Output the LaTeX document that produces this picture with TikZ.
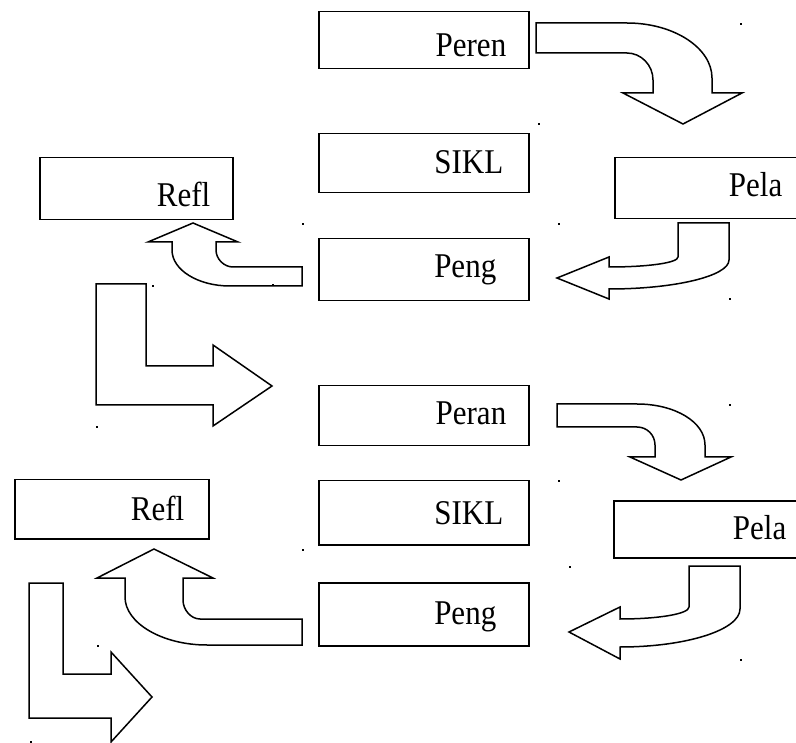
\documentclass[tikz,border=0pt]{standalone}
\usepackage{fontspec}
\setmainfont{Liberation Serif}
\newcommand{\boxtext}[1]{\scalebox{1}[1.12]{#1}}

\begin{document}
\begin{tikzpicture}[x=1pt,y=-1pt,line width=1.5pt,
  box/.style={draw,black,rectangle,anchor=north west,inner sep=0pt},
  lbl/.style={anchor=base east,inner sep=0pt,font=\fontsize{31}{36}\selectfont},
  blk/.style={draw,black,line join=miter}]
\useasboundingbox (0,0) rectangle (796,743);
% boxes, first cycle
\node [box,minimum width=210pt,minimum height=57pt] (peren) at (318,11) {};
\node [lbl] (perenT) at (507,57) {\boxtext{Peren}};
\node [box,minimum width=210pt,minimum height=59pt] (siklA) at (318,133) {};
\node [lbl] (siklAT) at (504,174) {\boxtext{SIKL}};
\node [box,minimum width=210pt,minimum height=62pt] (pengA) at (318,238) {};
\node [lbl] (pengAT) at (497,278) {\boxtext{Peng}};
\node [box,minimum width=190pt,minimum height=61pt] (pelaA) at (614,157) {};
\node [lbl] (pelaAT) at (783,197) {\boxtext{Pela}};
\node [box,minimum width=193pt,minimum height=62pt] (reflA) at (39,157) {};
\node [lbl] (reflAT) at (211,207) {\boxtext{Refl}};
% boxes, second cycle
\node [box,minimum width=210pt,minimum height=60pt] (peran) at (318,385) {};
\node [lbl] (peranT) at (507,425) {\boxtext{Peran}};
\node [box,minimum width=210pt,minimum height=64pt] (siklB) at (318,480) {};
\node [lbl] (siklBT) at (504,525) {\boxtext{SIKL}};
\node [box,minimum width=210pt,minimum height=63pt] (pengB) at (318,582) {};
\node [lbl] (pengBT) at (497,624) {\boxtext{Peng}};
\node [box,minimum width=192pt,minimum height=57pt] (pelaB) at (613,500) {};
\node [lbl] (pelaBT) at (787,539) {\boxtext{Pela}};
\node [box,minimum width=194pt,minimum height=59pt] (reflB) at (14,479) {};
\node [lbl] (reflBT) at (185,520) {\boxtext{Refl}};
% curved block arrows
\draw [blk] (536,23) -- (627,23) .. controls (674,23) and (712,48) .. (712,78) -- (712,93)
  -- (742,93) -- (683,124) -- (623,93) -- (653,93) -- (653,80)
  .. controls (653,65) and (641,53) .. (627,53) -- (536,53) -- cycle;
\draw [blk] (678,223) -- (729,223) -- (729,260) .. controls (729,276) and (675,289) .. (609,289)
  -- (609,299) -- (557,278) -- (609,257) -- (609,267)
  .. controls (647,267) and (678,263) .. (678,257) -- cycle;
\draw [blk] (302,267) -- (233,267) .. controls (224,267) and (216,259) .. (216,250) -- (216,242)
  -- (238,242) -- (193,223) -- (148,242) -- (172,242) -- (172,250)
  .. controls (172,270) and (198,286) .. (230,286) -- (302,286) -- cycle;
\draw [blk] (557,404) -- (637,404) .. controls (675,404) and (705,422) .. (705,445) -- (705,457)
  -- (731,457) -- (681,480) -- (630,457) -- (655,457) -- (655,445)
  .. controls (655,435) and (647,427) .. (637,427) -- (557,427) -- cycle;
\draw [blk] (689,566) -- (740,566) -- (740,609) .. controls (740,630) and (686,647) .. (620,647)
  -- (620,659) -- (569,632) -- (620,607) -- (620,619)
  .. controls (658,619) and (689,614) .. (689,607) -- cycle;
\draw [blk] (302,619) -- (200,619) .. controls (191,619) and (183,610) .. (183,600) -- (183,578)
  -- (213,578) -- (154,549) -- (97,578) -- (125,578) -- (125,597)
  .. controls (125,623) and (162,645) .. (207,645) -- (302,645) -- cycle;
% bent block arrows
\draw [blk] (96,284) -- (146,284) -- (146,366) -- (213,366) -- (213,345) -- (272,386)
  -- (213,426) -- (213,405) -- (96,405) -- cycle;
\draw [blk] (29,583) -- (63,583) -- (63,674) -- (111,674) -- (111,652) -- (152,697)
  -- (111,742) -- (111,718) -- (29,718) -- cycle;
% stray anchor marks
\foreach \p in {(740,23),(538,123),(302,223),(558,223),(152,285),(272,284),(729,298),
  (96,426),(729,404),(558,480),(302,549),(97,645),(30,741),(569,566),(740,659)}
  \fill [black] \p rectangle +(2,2);
\end{tikzpicture}
\end{document}
